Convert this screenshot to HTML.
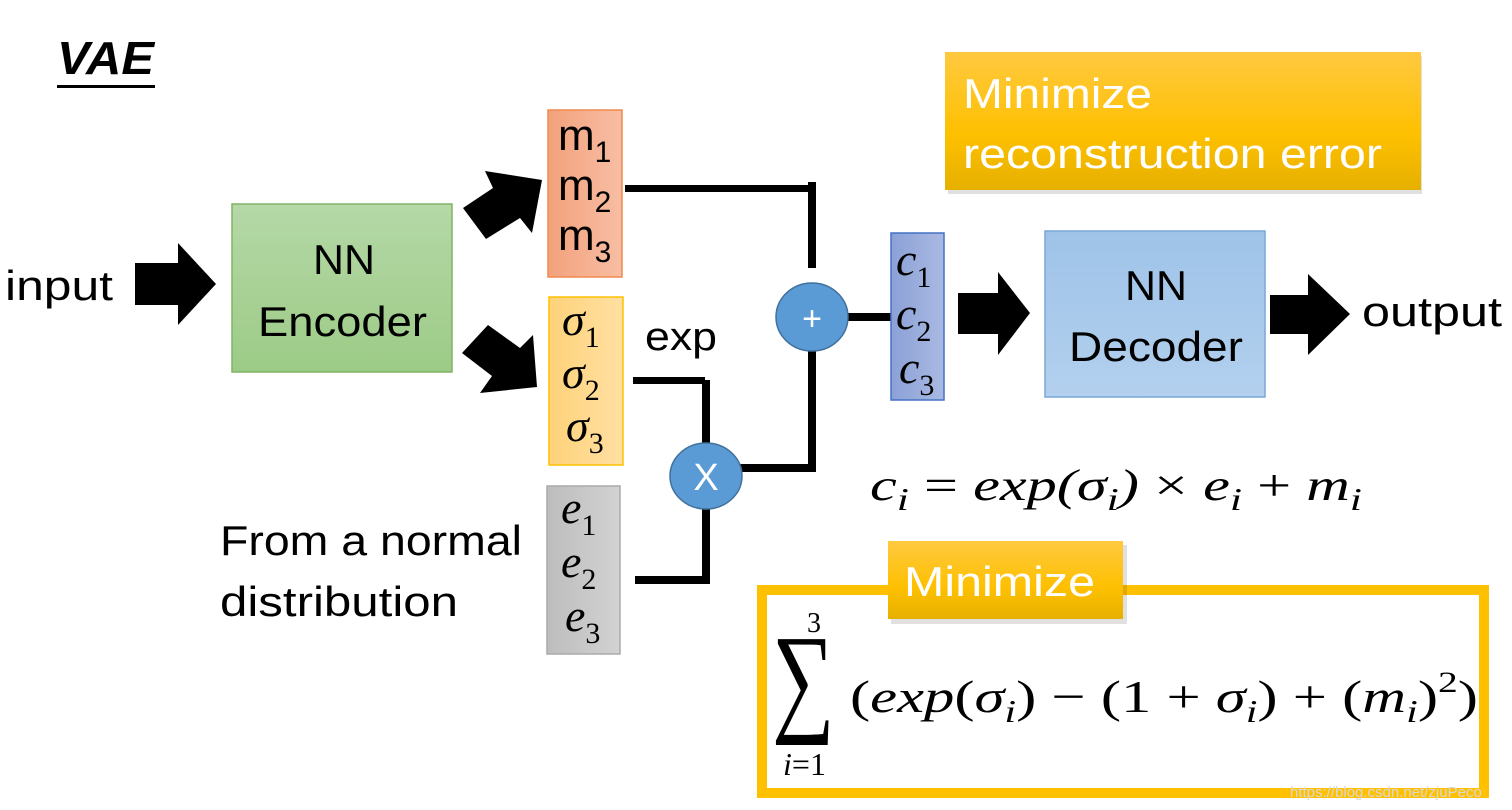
<!DOCTYPE html>
<html><head><meta charset="utf-8"><style>
html,body{margin:0;padding:0;background:#fff;}
svg{display:block;}
.s{font-family:"Liberation Sans","DejaVu Sans",sans-serif;}
.m{font-family:"Liberation Serif","DejaVu Serif",serif;font-style:italic;}
</style></head><body>
<svg width="1512" height="810" viewBox="0 0 1512 810" xmlns="http://www.w3.org/2000/svg">
<defs>
<linearGradient id="gG" x1="0" y1="0" x2="0" y2="1"><stop offset="0" stop-color="#b5d8a7"/><stop offset="1" stop-color="#9ccb86"/></linearGradient>
<linearGradient id="gO" x1="0" y1="0" x2="1" y2="0"><stop offset="0" stop-color="#f3a17c"/><stop offset="1" stop-color="#f7bea4"/></linearGradient>
<linearGradient id="gY" x1="0" y1="0" x2="1" y2="0"><stop offset="0" stop-color="#ffd27a"/><stop offset="1" stop-color="#ffe0a2"/></linearGradient>
<linearGradient id="gE" x1="0" y1="0" x2="1" y2="0"><stop offset="0" stop-color="#bdbdbd"/><stop offset="1" stop-color="#d2d2d2"/></linearGradient>
<linearGradient id="gC" x1="0" y1="0" x2="1" y2="0"><stop offset="0" stop-color="#8ba1d6"/><stop offset="1" stop-color="#a9b9e2"/></linearGradient>
<linearGradient id="gD" x1="0" y1="0" x2="0" y2="1"><stop offset="0" stop-color="#9ec3e8"/><stop offset="1" stop-color="#b3d0ee"/></linearGradient>
<linearGradient id="gM" x1="0" y1="0" x2="0" y2="1"><stop offset="0" stop-color="#ffc940"/><stop offset="0.6" stop-color="#fec000"/><stop offset="1" stop-color="#e6b000"/></linearGradient>
</defs>

<text x="57" y="74" class="s" font-size="46" font-weight="bold" font-style="italic" textLength="97" lengthAdjust="spacingAndGlyphs">VAE</text>
<rect x="57" y="85" width="98" height="3" fill="#000"/>

<text x="5" y="300" class="s" font-size="42" textLength="108" lengthAdjust="spacingAndGlyphs">input</text>
<polygon points="135,263 178,263 178,243 216,284 178,325 178,305 135,305" fill="#000"/>

<rect x="232" y="204" width="220" height="168" fill="url(#gG)" stroke="#82b366" stroke-width="1.5"/>
<text x="313" y="274" class="s" font-size="42" textLength="62" lengthAdjust="spacingAndGlyphs">NN</text>
<text x="258" y="336" class="s" font-size="42" textLength="169" lengthAdjust="spacingAndGlyphs">Encoder</text>

<polygon points="463,208 493,188 485,171 542,180 532,233 520,218 486,239" fill="#000"/>
<polygon points="462,353 488,325 520,348 533,335 537,387 480,393 492,376" fill="#000"/>

<rect x="548" y="110" width="74" height="167" fill="url(#gO)" stroke="#f08a4b" stroke-width="1.5"/>
<g class="s" font-size="44"><text x="558" y="150">m<tspan font-size="30" dy="12">1</tspan></text>
<text x="558" y="200">m<tspan font-size="30" dy="12">2</tspan></text>
<text x="558" y="250">m<tspan font-size="30" dy="12">3</tspan></text></g>

<rect x="549" y="297" width="74" height="168" fill="url(#gY)" stroke="#ffc000" stroke-width="1.5"/>
<g class="m" font-size="46"><text x="562" y="335">σ<tspan font-size="30" dy="12" font-style="normal">1</tspan></text>
<text x="562" y="388">σ<tspan font-size="30" dy="12" font-style="normal">2</tspan></text>
<text x="566" y="441">σ<tspan font-size="30" dy="12" font-style="normal">3</tspan></text></g>

<rect x="547" y="486" width="73" height="168" fill="url(#gE)" stroke="#aaa" stroke-width="1.5"/>
<g class="m" font-size="46"><text x="561" y="523">e<tspan font-size="30" dy="12" font-style="normal">1</tspan></text>
<text x="561" y="577">e<tspan font-size="30" dy="12" font-style="normal">2</tspan></text>
<text x="565" y="631">e<tspan font-size="30" dy="12" font-style="normal">3</tspan></text></g>

<text x="645" y="350" class="s" font-size="40" textLength="72" lengthAdjust="spacingAndGlyphs">exp</text>
<text x="220" y="555" class="s" font-size="42" textLength="302" lengthAdjust="spacingAndGlyphs">From a normal</text>
<text x="220" y="616" class="s" font-size="42" textLength="238" lengthAdjust="spacingAndGlyphs">distribution</text>

<g fill="#000">
<rect x="625" y="185" width="190" height="7"/>
<rect x="808" y="182" width="8" height="86"/>
<rect x="808" y="342" width="8" height="130"/>
<rect x="735" y="464" width="81" height="8"/>
<rect x="845" y="313" width="48" height="8"/>
<rect x="633" y="377" width="72" height="7"/>
<rect x="702" y="380" width="8" height="66"/>
<rect x="635" y="576" width="72" height="8"/>
<rect x="702" y="505" width="8" height="79"/>
</g>
<ellipse cx="812" cy="317" rx="36" ry="34" fill="#5b9bd5" stroke="#41719c" stroke-width="1.5"/>
<text x="812" y="330" class="s" font-size="34" fill="#fff" text-anchor="middle">+</text>
<ellipse cx="706" cy="476" rx="36" ry="33" fill="#5b9bd5" stroke="#41719c" stroke-width="1.5"/>
<text x="706" y="490" class="s" font-size="38" fill="#fff" text-anchor="middle">X</text>

<rect x="891" y="233" width="53" height="167" fill="url(#gC)" stroke="#4472c4" stroke-width="1.5"/>
<g class="m" font-size="46"><text x="896" y="275">c<tspan font-size="30" dy="12" font-style="normal">1</tspan></text>
<text x="896" y="329">c<tspan font-size="30" dy="12" font-style="normal">2</tspan></text>
<text x="899" y="383">c<tspan font-size="30" dy="12" font-style="normal">3</tspan></text></g>

<polygon points="958,293 998,293 998,272 1030,313 998,355 998,334 958,334" fill="#000"/>

<rect x="1045" y="231" width="220" height="166" fill="url(#gD)" stroke="#7ba7d8" stroke-width="1.5"/>
<text x="1125" y="300" class="s" font-size="42" textLength="62" lengthAdjust="spacingAndGlyphs">NN</text>
<text x="1069" y="361" class="s" font-size="42" textLength="174" lengthAdjust="spacingAndGlyphs">Decoder</text>

<polygon points="1270,295 1308,295 1308,274 1350,314 1308,355 1308,334 1270,334" fill="#000"/>
<text x="1362" y="326" class="s" font-size="42" textLength="140" lengthAdjust="spacingAndGlyphs">output</text>

<rect x="948" y="56" width="474" height="138" fill="#000" opacity="0.12"/>
<rect x="945" y="52" width="476" height="138" fill="url(#gM)"/>
<text x="963" y="108" class="s" font-size="42" fill="#fff" textLength="189" lengthAdjust="spacingAndGlyphs">Minimize</text>
<text x="963" y="168" class="s" font-size="42" fill="#fff" textLength="419" lengthAdjust="spacingAndGlyphs">reconstruction error</text>

<text x="870" y="500" class="m" font-size="44" textLength="492" lengthAdjust="spacingAndGlyphs">c<tspan font-size="32" dy="10">i</tspan><tspan dy="-10" font-style="normal"> = </tspan>exp(σ<tspan font-size="32" dy="10">i</tspan><tspan dy="-10">) </tspan><tspan font-style="normal">× </tspan>e<tspan font-size="32" dy="10">i</tspan><tspan dy="-10" font-style="normal"> + </tspan>m<tspan font-size="32" dy="10">i</tspan></text>

<rect x="762" y="590" width="722" height="203" fill="#fff" stroke="#ffc000" stroke-width="10"/>
<rect x="891" y="545" width="236" height="79" fill="#000" opacity="0.12"/>
<rect x="888" y="541" width="235" height="78" fill="url(#gM)"/>
<text x="904" y="596" class="s" font-size="42" fill="#fff" textLength="191" lengthAdjust="spacingAndGlyphs">Minimize</text>

<text x="814" y="632" font-family="Liberation Serif,serif" font-size="28" text-anchor="middle">3</text>
<text transform="translate(772,719) scale(0.72,1)" font-family="Liberation Serif,DejaVu Serif,serif" font-size="122">∑</text>
<text x="783" y="775" class="m" font-size="32">i<tspan font-style="normal">=1</tspan></text>
<text x="850" y="712" class="m" font-size="46" textLength="628" lengthAdjust="spacingAndGlyphs"><tspan font-style="normal">(</tspan>exp<tspan font-style="normal">(</tspan>σ<tspan font-size="32" dy="10">i</tspan><tspan dy="-10" font-style="normal">) − (1 + </tspan>σ<tspan font-size="32" dy="10">i</tspan><tspan dy="-10" font-style="normal">) + (</tspan>m<tspan font-size="32" dy="10">i</tspan><tspan dy="-10" font-style="normal">)</tspan><tspan font-size="30" dy="-20" font-style="normal">2</tspan><tspan dy="20" font-style="normal">)</tspan></text>

<text x="1290" y="797" class="s" font-size="15" fill="#d8d8d8">https://blog.csdn.net/zjuPeco</text>
</svg>
</body></html>
